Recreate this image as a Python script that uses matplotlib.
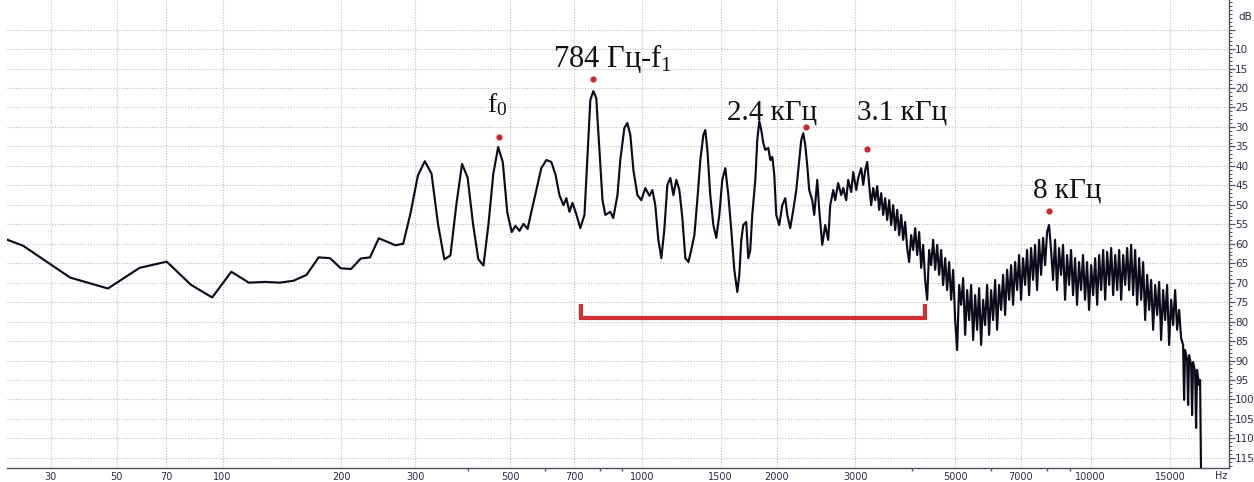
import numpy as np
import matplotlib
matplotlib.use("Agg")
import matplotlib.pyplot as plt
from matplotlib.ticker import FixedLocator, MultipleLocator, FuncFormatter

# spectrum: frequency (Hz) and level (dB below 0)
freq_hz = [
    11.7, 23.4, 35.2, 46.9, 58.6, 70.3, 82.0, 93.8, 105.5, 117.2,
    128.9, 140.6, 152.3, 164.1, 175.8, 187.5, 199.2, 210.9, 222.7, 234.4,
    246.1, 257.8, 269.5, 281.3, 293.0, 304.7, 316.4, 328.1, 339.8, 351.6,
    363.3, 375.0, 386.7, 398.4, 410.2, 421.9, 433.6, 445.3, 457.0, 468.8,
    480.5, 492.2, 503.9,
    514, 525, 536, 548, 559, 574, 589, 605, 621, 635,
    648, 662, 672, 683, 694, 708, 723, 739, 750, 762,
    774, 786, 799, 812, 824, 846, 859, 878, 891, 910,
    924, 939, 954, 974, 994, 1015, 1037, 1053, 1069, 1086,
    1103, 1120, 1138, 1156, 1174, 1192, 1211, 1230, 1249, 1269,
    1288, 1309, 1329, 1350, 1371, 1385, 1400, 1421, 1444, 1466,
    1489, 1512, 1536, 1560, 1584, 1609, 1634, 1651, 1668, 1685,
    1711, 1729, 1747, 1765, 1793, 1811, 1830, 1849, 1868, 1887,
    1917, 1937, 1957, 1977, 1997, 2028, 2060, 2092, 2114, 2146,
    2180, 2214, 2248, 2271, 2295, 2318, 2342, 2366, 2403, 2428,
    2466, 2491, 2530, 2569, 2609, 2636, 2677, 2704, 2746, 2789,
    2818, 2861, 2891, 2936, 2966, 3012, 3043, 3090, 3122, 3154,
    3187, 3219, 3252, 3286, 3320, 3354, 3389, 3424, 3459, 3494,
    3530, 3567, 3603, 3641, 3678, 3716, 3754, 3793, 3832, 3871,
    3911, 3951, 3992, 4033, 4075, 4117, 4159, 4202, 4245, 4288,
    4333, 4377, 4422, 4468, 4514, 4560, 4607, 4654, 4702, 4751,
    4799, 4849, 4899, 4949, 5000, 5051, 5103, 5156, 5209, 5262,
    5316, 5371, 5426, 5482, 5538, 5595, 5653, 5710, 5769, 5828,
    5888, 5949, 6010, 6072, 6134, 6197, 6261, 6325, 6390, 6456,
    6522, 6589, 6657, 6725, 6794, 6864, 6934, 7005, 7077, 7150,
    7223, 7298, 7372, 7448, 7524, 7602, 7680, 7759, 7838, 7919,
    8000, 8082, 8165, 8249, 8333, 8419, 8505, 8593, 8681, 8770,
    8860, 8951, 9042, 9135, 9229, 9324, 9419, 9516, 9613, 9712,
    9812, 9913, 10021, 10124, 10228, 10333, 10439, 10546, 10654, 10763,
    10874, 10985, 11099, 11212, 11328, 11444, 11561, 11679, 11799, 11920,
    12043, 12166, 12290, 12416, 12543, 12672, 12802, 12934, 13067, 13201,
    13336, 13473, 13610, 13750, 13891, 14034, 14178, 14322, 14469, 14617,
    14767, 14919, 15072, 15226, 15383, 15540, 15700, 15860, 16022, 16104,
    16187, 16353, 16437, 16521, 16690, 16775, 16861, 17034, 17121, 17209,
    17385, 17473, 17562,
]
level_db = [
    54.5, 60.5, 68.7, 71.5, 66.2, 64.6, 70.5, 73.8, 67.2, 70.0,
    69.8, 70.0, 69.5, 68.0, 63.5, 63.7, 66.3, 66.5, 63.8, 63.5,
    58.6, 59.5, 60.4, 60.0, 52.0, 42.5, 38.8, 42.0, 55.0, 64.0,
    63.0, 50.0, 39.5, 43.0, 55.0, 64.0, 65.6, 55.0, 42.0, 35.2,
    39.0, 52.0, 57.0,
    55.4, 56.7, 54.9, 56.2, 51.8, 46.2, 40.6, 38.5, 39.0, 42.3,
    47.5, 50.1, 48.3, 51.8, 49.5, 52.4, 56.0, 52.6, 38.5, 23.1,
    20.8, 22.6, 35.9, 48.8, 52.6, 51.8, 53.4, 47.5, 38.5, 30.3,
    29.0, 32.1, 41.1, 47.5, 48.8, 45.7, 47.7, 46.2, 50.1, 59.0,
    63.7, 56.5, 44.9, 43.1, 47.5, 43.6, 46.2, 53.4, 63.7, 64.7,
    61.6, 57.8, 48.8, 38.5, 32.1, 30.8, 35.9, 47.5, 55.2, 58.5,
    52.6, 43.6, 40.6, 47.5, 56.5, 66.7, 72.4, 68.0, 59.0, 55.2,
    54.4, 63.7, 61.6, 52.6, 43.6, 33.4, 28.5, 30.8, 34.1, 35.9,
    35.4, 38.5, 37.7, 42.3, 52.6, 55.2, 50.1, 48.3, 52.6, 56.0,
    51.3, 46.2, 38.5, 33.4, 31.6, 34.6, 39.8, 46.2, 48.8, 52.6,
    43.6, 51.3, 60.3, 55.2, 59.0, 50.1, 46.2, 48.8, 44.4, 47.5,
    45.7, 48.8, 43.6, 46.7, 41.6, 46.2, 43.1, 40.6, 44.9, 41.1,
    39.0, 44.9, 50.1, 45.7, 48.8, 45.2, 51.3, 47.0, 52.6, 48.3,
    53.9, 48.8, 55.2, 50.1, 56.5, 51.3, 57.8, 52.6, 59.0, 54.4,
    61.1, 64.7, 57.8, 61.6, 56.0, 62.9, 57.0, 66.2, 60.3, 69.3,
    74.4, 61.6, 65.5, 59.0, 66.7, 60.3, 68.0, 61.6, 70.6, 63.7,
    71.9, 64.7, 74.4, 66.7, 79.6, 87.3, 70.6, 75.7, 68.8, 83.4,
    71.9, 79.6, 70.6, 84.7, 73.2, 82.1, 71.4, 86.0, 74.4, 80.9,
    70.6, 83.4, 71.9, 79.6, 69.3, 82.1, 70.6, 77.0, 68.0, 78.3,
    66.7, 74.4, 65.5, 75.7, 64.7, 71.9, 62.9, 74.4, 63.7, 70.6,
    61.6, 73.2, 61.1, 69.3, 60.3, 71.9, 59.0, 68.0, 58.5, 65.5,
    57.0, 55.2, 61.6, 69.3, 59.0, 71.9, 61.1, 68.0, 60.3, 74.4,
    62.9, 70.6, 61.6, 73.2, 63.7, 75.7, 64.7, 71.9, 62.9, 74.4,
    64.7, 77.0, 65.5, 73.2, 63.7, 75.7, 62.9, 71.9, 61.6, 74.4,
    62.1, 70.6, 61.1, 73.2, 62.9, 71.9, 61.6, 74.4, 62.9, 70.6,
    61.1, 71.9, 60.3, 73.2, 61.6, 75.7, 63.7, 74.4, 64.7, 79.6,
    68.0, 77.0, 69.3, 82.1, 70.6, 78.3, 69.8, 84.7, 71.9, 79.6,
    70.6, 86.0, 74.4, 80.9, 71.9, 82.1, 77.0, 84.2, 86.0, 100.1,
    87.3, 89.8, 101.4, 88.6, 91.1, 104.0, 90.4, 92.9, 107.3, 92.4,
    96.3, 95.0, 120.0,
]

x_ticks_hz = [30, 50, 70, 100, 200, 300, 500, 700, 1000, 1500, 2000,
              3000, 5000, 7000, 10000, 15000]
x_minor_hz = [400, 600, 800, 900, 4000, 6000, 8000, 9000]
db_ticks = list(range(5, 120, 5))

# red markers and captions
peak_hz = [470, 774, 2330, 3187, 8082]
peak_db = [32.6, 17.7, 30.0, 35.7, 51.6]
label_text = ["f$_0$", "784 Гц-f$_1$", "2.4 кГц", "3.1 кГц", "8 кГц"]
label_hz = [441, 628, 1552, 3027, 7448]
label_db = [26.2, 14.6, 28.2, 28.2, 48.0]
label_size = [20, 22, 21, 21, 21]

bracket_hz = [727, 4294]
bracket_db = 79.1
bracket_end_db = 75.5

plt.rcParams['mathtext.fontset'] = 'custom'
plt.rcParams['mathtext.rm'] = 'Liberation Serif'
plt.rcParams['mathtext.it'] = 'Liberation Serif'
plt.rcParams['mathtext.default'] = 'rm'


def fwd(f):
    return np.log10(np.asarray(f, dtype=float) + 20.0)


def inv(v):
    return 10.0 ** np.asarray(v, dtype=float) - 20.0


W, H = 1254, 482
fig = plt.figure(figsize=(W / 100, H / 100), dpi=100)
ax = fig.add_axes([7 / W, 14 / H, 1222 / W, 468 / H])
ax.set_xscale('function', functions=(fwd, inv))

ax.plot(freq_hz, level_db, color='#0b0b1c', lw=1.55, solid_joinstyle='round', zorder=3)

ax.set_xlim(20, 20250)
ax.set_ylim(117.6, -2.6)

ax.xaxis.set_major_locator(FixedLocator(x_ticks_hz))
ax.xaxis.set_minor_locator(FixedLocator(x_minor_hz))
ax.xaxis.set_major_formatter(FuncFormatter(lambda v, p: f"{v:g}"))
ax.xaxis.set_minor_formatter(FuncFormatter(lambda v, p: ""))
ax.yaxis.set_major_locator(FixedLocator(db_ticks))
ax.yaxis.set_minor_locator(MultipleLocator(1))
ax.yaxis.set_major_formatter(FuncFormatter(lambda v, p: "" if v == 5 else f"{v:g}"))
ax.yaxis.tick_right()

tick_col = '#2c2c44'
ax.tick_params(axis='x', which='major', length=0, pad=3, labelsize=7, labelcolor=tick_col)
ax.tick_params(axis='x', which='minor', length=2, width=1, color='#555566')
ax.tick_params(axis='y', which='major', length=4, width=0.9, pad=0.5,
               labelsize=7.5, labelcolor=tick_col, color='#555566')
ax.tick_params(axis='y', which='minor', length=2, width=0.7, color='#555566')

ax.grid(True, which='major', color='#bcbcbc', linestyle=(0, (1, 1.5)), linewidth=0.8)
for side in ['left', 'top']:
    ax.spines[side].set_visible(False)
for side in ['right', 'bottom']:
    ax.spines[side].set_color('#505060')
    ax.spines[side].set_linewidth(1.0)

# red dots over peaks
ax.plot(peak_hz, peak_db, 'o', color='#cc2a2a', ms=4.5, mec='none', zorder=4, clip_on=False)

for txt, hz, db, fs in zip(label_text, label_hz, label_db, label_size):
    ax.text(hz, db, txt, fontsize=fs, family='Liberation Serif', color='#111111',
            ha='left', va='baseline', zorder=5)

# bracket under the formant region
ax.plot([bracket_hz[0], bracket_hz[0], bracket_hz[1], bracket_hz[1]],
        [bracket_end_db, bracket_db, bracket_db, bracket_end_db],
        color='#d03030', lw=3, solid_capstyle='butt', solid_joinstyle='miter', zorder=4)

fig.text(1238 / W, 1 - 17 / H, 'dB', fontsize=7.5, color=tick_col, ha='left', va='center')
fig.text(1221 / W, 1 - 476 / H, 'Hz', fontsize=7, color=tick_col, ha='center', va='center')

fig.savefig('out.png', dpi=100, facecolor='white')
